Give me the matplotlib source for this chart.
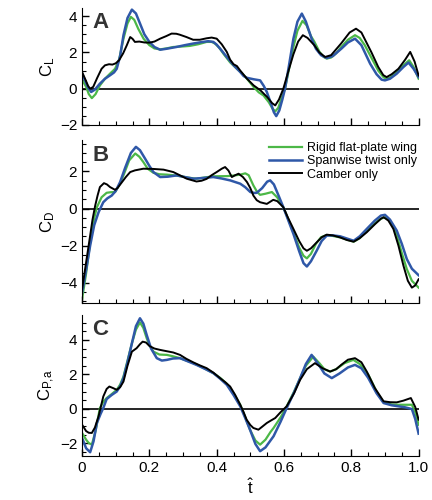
import matplotlib
matplotlib.use('Agg')
import matplotlib.pyplot as plt
from matplotlib.ticker import MultipleLocator, FuncFormatter

plt.rcParams['font.family'] = ['Liberation Sans', 'DejaVu Sans']
plt.rcParams['mathtext.fontset'] = 'custom'
plt.rcParams['mathtext.rm'] = 'Liberation Sans'
plt.rcParams['mathtext.it'] = 'Liberation Sans'

labels = ['Rigid flat-plate wing', 'Spanwise twist only', 'Camber only']
colors = ['#4cb847', '#2f58a8', 'black']

# panel A, lift coefficient
cl_rigid_t = [0, .012, .02, .029, .04, .053, .068, .083, .098, .11, .123, .135, .145, .155, .167, .183, .2, .215, .232, .25, .271, .3, .32, .345, .37, .385, .395, .408, .42, .44, .46, .475, .49, .51, .525, .539, .555, .566, .574, .583, .593, .603, .615, .628, .64, .655, .667, .68, .69, .705, .718, .727, .74, .755, .77, .79, .811, .825, .84, .86, .88, .895, .903, .915, .94, .955, .972, .985, 1.0]
cl_rigid = [.5, .1, -.3, -.52, -.3, .18, .55, .83, 1.1, 1.6, 2.76, 3.6, 3.96, 3.8, 3.3, 2.75, 2.4, 2.22, 2.17, 2.22, 2.3, 2.33, 2.36, 2.45, 2.58, 2.58, 2.49, 2.25, 1.93, 1.45, 1.1, .85, .55, .09, -.2, -.37, -.75, -1.1, -1.25, -1.05, -.5, 0.0, 1.1, 2.3, 3.2, 3.74, 3.5, 2.9, 2.6, 2.05, 1.75, 1.66, 1.72, 1.95, 2.3, 2.7, 2.95, 2.8, 2.4, 1.7, 1.0, .65, .55, .6, 1.0, 1.3, 1.57, 1.2, .55]
cl_twist_t = [0, .01, .018, .027, .038, .053, .068, .083, .095, .103, .113, .123, .135, .148, .16, .172, .185, .2, .215, .232, .25, .28, .305, .33, .355, .375, .39, .4, .415, .43, .45, .47, .48, .49, .51, .529, .54, .549, .56, .57, .577, .586, .595, .603, .615, .628, .64, .653, .665, .682, .695, .71, .727, .745, .77, .79, .811, .83, .856, .875, .89, .9, .915, .935, .955, .97, .985, 1.0]
cl_twist = [.83, .4, .05, -.18, -.05, .28, .55, .74, .9, 1.1, 1.8, 2.95, 3.9, 4.36, 4.15, 3.6, 3.0, 2.58, 2.3, 2.15, 2.2, 2.3, 2.4, 2.49, 2.57, 2.62, 2.58, 2.43, 2.1, 1.75, 1.3, .92, .7, .6, .52, .46, .15, -.18, -.75, -1.3, -1.51, -1.2, -.6, 0.0, 1.3, 2.76, 3.7, 4.14, 3.7, 2.76, 2.2, 1.85, 1.69, 1.8, 2.2, 2.55, 2.76, 2.4, 1.38, .8, .5, .46, .55, .83, 1.2, 1.44, 1.1, .64]
cl_camber_t = [0, .01, .018, .024, .033, .045, .058, .068, .08, .09, .1, .11, .122, .133, .143, .15, .157, .17, .185, .2, .215, .232, .25, .266, .28, .29, .31, .33, .35, .37, .385, .4, .415, .43, .44, .45, .46, .47, .49, .51, .53, .55, .565, .574, .585, .598, .612, .628, .642, .656, .67, .69, .705, .722, .74, .77, .795, .814, .83, .86, .88, .895, .905, .92, .94, .96, .975, .988, 1.0]
cl_camber = [.92, .5, .15, 0.0, .1, .6, 1.1, 1.29, 1.35, 1.33, 1.4, 1.57, 1.95, 2.4, 2.85, 2.75, 2.58, 2.6, 2.55, 2.54, 2.6, 2.76, 2.9, 3.04, 3.03, 2.98, 2.85, 2.7, 2.7, 2.78, 2.82, 2.76, 2.45, 2.03, 1.6, 1.35, 1.25, 1.0, .55, .18, -.09, -.46, -.8, -.92, -.6, 0.0, .9, 1.9, 2.6, 2.95, 2.8, 2.4, 2.0, 1.75, 1.85, 2.5, 3.1, 3.31, 3.1, 2.0, 1.2, .75, .64, .8, 1.1, 1.6, 2.03, 1.5, .73]

# panel B, drag coefficient
cd_rigid_t = [0, .012, .024, .035, .044, .058, .073, .085, .098, .11, .123, .14, .158, .17, .182, .195, .212, .23, .252, .27, .291, .315, .34, .365, .39, .43, .45, .47, .485, .495, .509, .52, .529, .545, .564, .58, .598, .612, .628, .645, .658, .668, .68, .695, .71, .727, .745, .767, .787, .807, .825, .846, .87, .888, .9, .913, .925, .935, .95, .965, .98, 1.0]
cd_rigid = [-4.9, -3.5, -1.83, -.6, .07, .61, .85, .88, .89, 1.25, 1.79, 2.6, 2.97, 2.8, 2.51, 2.15, 1.93, 1.85, 1.83, 1.8, 1.75, 1.67, 1.61, 1.68, 1.74, 1.75, 1.78, 1.83, 1.9, 1.8, 1.25, .9, .74, .8, .89, .6, .07, -.55, -1.28, -2.1, -2.55, -2.69, -2.45, -1.9, -1.55, -1.43, -1.48, -1.56, -1.68, -1.79, -1.6, -1.19, -.8, -.55, -.47, -.6, -1.0, -1.46, -2.4, -3.27, -3.9, -4.27]
cd_twist_t = [0, .012, .024, .036, .049, .063, .075, .088, .1, .113, .128, .145, .16, .172, .187, .2, .212, .232, .255, .281, .305, .331, .36, .39, .415, .44, .47, .485, .5, .512, .519, .535, .55, .559, .57, .585, .598, .612, .628, .645, .658, .668, .68, .697, .712, .727, .745, .767, .787, .807, .825, .846, .87, .888, .9, .915, .935, .95, .965, .98, 1.0]
cd_twist = [-4.54, -3.3, -2.0, -.9, -.2, .34, .55, .7, .95, 1.43, 2.2, 3.0, 3.33, 3.15, 2.7, 2.3, 1.97, 1.7, 1.72, 1.79, 1.7, 1.61, 1.65, 1.7, 1.62, 1.52, 1.34, 1.15, .89, .84, .85, 1.1, 1.45, 1.52, 1.3, .65, .07, -.6, -1.37, -2.3, -2.95, -3.13, -2.85, -2.28, -1.75, -1.46, -1.45, -1.5, -1.62, -1.74, -1.5, -1.1, -.65, -.38, -.34, -.6, -1.19, -1.9, -2.73, -3.25, -3.6]
cd_camber_t = [0, .012, .024, .031, .039, .046, .053, .065, .074, .083, .098, .105, .115, .13, .143, .157, .182, .21, .242, .271, .29, .311, .34, .355, .37, .385, .4, .415, .425, .435, .445, .455, .465, .478, .49, .5, .509, .519, .529, .549, .568, .58, .598, .612, .628, .645, .658, .668, .68, .697, .712, .727, .745, .767, .787, .807, .825, .846, .87, .888, .896, .91, .925, .94, .955, .968, .98, .99, 1.0]
cd_camber = [-4.36, -2.9, -1.46, -.6, .16, .7, 1.16, 1.37, 1.3, 1.16, 1.01, 1.1, 1.34, 1.7, 1.97, 2.06, 2.15, 2.14, 2.1, 1.97, 1.8, 1.61, 1.46, 1.5, 1.6, 1.8, 1.97, 2.15, 2.24, 2.05, 1.7, 1.8, 1.88, 1.7, 1.43, 1.1, .7, .45, .34, .25, .47, .4, .07, -.5, -1.1, -1.75, -2.15, -2.28, -2.15, -1.83, -1.55, -1.41, -1.45, -1.56, -1.7, -1.79, -1.6, -1.28, -.85, -.55, -.47, -.65, -1.1, -2.0, -3.09, -3.9, -4.27, -4.15, -3.82]

# panel C, aerodynamic power coefficient
cp_rigid_t = [0, .012, .02, .029, .04, .053, .063, .073, .088, .103, .113, .123, .135, .148, .16, .172, .182, .192, .2, .212, .23, .252, .27, .291, .31, .331, .36, .39, .41, .43, .45, .47, .485, .499, .515, .529, .545, .56, .569, .59, .608, .63, .648, .665, .687, .705, .72, .737, .755, .78, .806, .825, .85, .875, .896, .92, .94, .96, .98, .99, 1.0]
cp_rigid = [-1.41, -1.8, -2.0, -2.09, -1.3, .04, .4, .62, .85, 1.1, 1.4, 1.87, 2.8, 3.8, 4.6, 5.02, 4.7, 4.1, 3.7, 3.32, 3.15, 3.13, 3.05, 2.94, 2.8, 2.65, 2.38, 2.07, 1.8, 1.45, .9, .23, -.5, -1.22, -1.85, -2.09, -1.8, -1.35, -1.12, -.5, .14, 1.0, 1.78, 2.5, 3.03, 2.65, 2.3, 2.16, 2.3, 2.65, 2.84, 2.6, 2.0, 1.0, .37, .25, .23, .23, .23, -.2, -.93]
cp_twist_t = [0, .012, .024, .034, .044, .055, .063, .073, .088, .103, .113, .123, .135, .148, .16, .172, .182, .192, .205, .222, .237, .252, .27, .291, .315, .34, .365, .39, .41, .43, .45, .47, .485, .499, .515, .529, .545, .569, .59, .608, .63, .648, .665, .682, .7, .72, .742, .765, .79, .811, .83, .85, .875, .896, .92, .94, .96, .98, .99, 1.0]
cp_twist = [-1.7, -2.3, -2.53, -1.9, -.83, -.3, .04, .56, .8, 1.0, 1.3, 1.78, 2.7, 3.8, 4.8, 5.26, 4.95, 4.29, 3.5, 2.94, 2.8, 2.84, 2.92, 2.94, 2.75, 2.55, 2.32, 2.07, 1.75, 1.39, .8, .14, -.55, -1.22, -2.05, -2.47, -2.25, -1.6, -.75, .04, .95, 1.78, 2.6, 3.13, 2.65, 2.05, 1.78, 2.05, 2.4, 2.55, 2.35, 1.8, .9, .33, .2, .14, .08, -.02, -.6, -1.45]
cp_camber_t = [0, .012, .02, .029, .038, .049, .063, .073, .081, .092, .103, .113, .123, .135, .148, .162, .172, .18, .19, .2, .215, .232, .25, .271, .291, .31, .331, .35, .37, .39, .41, .425, .44, .455, .47, .48, .489, .5, .509, .524, .535, .549, .56, .574, .59, .608, .63, .648, .668, .692, .715, .737, .755, .77, .79, .811, .83, .846, .87, .896, .915, .935, .955, .977, .99, 1.0]
cp_camber = [-.93, -1.3, -1.4, -1.41, -1.1, -.44, .71, 1.15, 1.29, 1.2, 1.1, 1.25, 1.58, 2.5, 3.32, 3.52, 3.75, 3.9, 3.85, 3.65, 3.5, 3.42, 3.35, 3.27, 3.13, 2.9, 2.69, 2.52, 2.36, 2.1, 1.78, 1.55, 1.29, .8, .23, -.2, -.64, -.95, -1.12, -1.22, -1.05, -.83, -.7, -.54, -.2, .14, .9, 1.68, 2.3, 2.65, 2.35, 2.16, 2.3, 2.55, 2.85, 2.94, 2.7, 2.16, 1.2, .43, .38, .37, .47, .62, .1, -.64]

panels = [
    ('A', r'C$_\mathrm{L}$', (-2, 4.45),
     [(cl_rigid_t, cl_rigid), (cl_twist_t, cl_twist), (cl_camber_t, cl_camber)]),
    ('B', r'C$_\mathrm{D}$', (-5.1, 3.7),
     [(cd_rigid_t, cd_rigid), (cd_twist_t, cd_twist), (cd_camber_t, cd_camber)]),
    ('C', r'C$_\mathrm{P{,}a}$', (-2.75, 5.45),
     [(cp_rigid_t, cp_rigid), (cp_twist_t, cp_twist), (cp_camber_t, cp_camber)]),
]
rects = [[0.19, 0.75, 0.779, 0.234],
         [0.19, 0.394, 0.779, 0.326],
         [0.19, 0.088, 0.779, 0.282]]
widths = [1.6, 1.8, 1.4]

fig = plt.figure(figsize=(4.32, 5.0), dpi=100)
for i, (letter, ylab, ylim, series) in enumerate(panels):
    ax = fig.add_axes(rects[i])
    ax.axhline(0, color='black', lw=1.2)
    for (t, v), c, lw, lab in zip(series, colors, widths, labels):
        ax.plot(t, v, color=c, lw=lw, label=lab)
    ax.set_xlim(0, 1)
    ax.set_ylim(*ylim)
    ax.xaxis.set_major_locator(MultipleLocator(0.2))
    ax.xaxis.set_minor_locator(MultipleLocator(0.05))
    ax.yaxis.set_major_locator(MultipleLocator(2))
    ax.yaxis.set_minor_locator(MultipleLocator(0.5))
    ax.tick_params(which='both', direction='in', labelsize=11, top=False, right=False)
    ax.tick_params(which='major', length=5, width=1)
    ax.tick_params(which='minor', length=3, width=0.8)
    for s in ['top', 'right']:
        ax.spines[s].set_visible(False)
    ax.set_ylabel(ylab, fontsize=12, labelpad=2)
    ax.text(0.03, 0.97, letter, transform=ax.transAxes, fontsize=16,
            fontweight='bold', va='top', ha='left', color='#333333')
    if i < 2:
        ax.tick_params(labelbottom=False)
    else:
        ax.xaxis.set_major_formatter(FuncFormatter(
            lambda x, p: '0' if abs(x) < 1e-9 else f'{x:.1f}'))
        ax.set_xlabel(r'$\hat{\mathrm{t}}$', fontsize=12, labelpad=2)
    if i == 1:
        ax.legend(loc='upper right', bbox_to_anchor=(1.02, 1.04), frameon=False,
                  fontsize=9, handlelength=2.6, labelspacing=0.1,
                  handletextpad=0.4, borderpad=0.2)

fig.savefig('out.png', dpi=100)
